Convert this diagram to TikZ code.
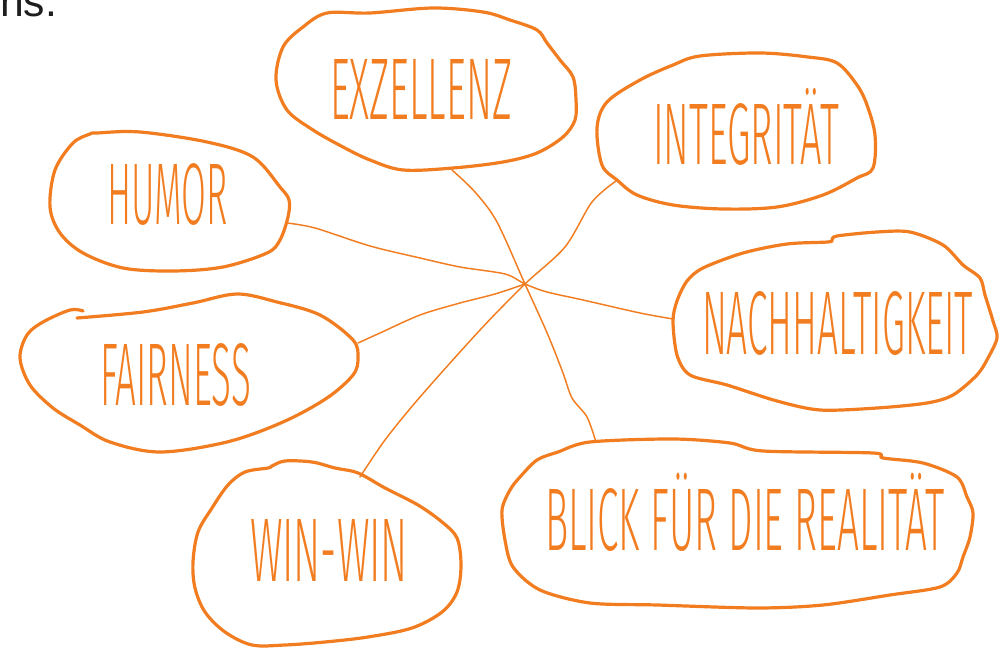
\documentclass[tikz,border=0pt]{standalone}
\usepackage{fontspec}
\setmainfont{Liberation Sans}
\newfontfamily\labelfont{Fira Sans Light}
\definecolor{org}{RGB}{242,125,32}
\definecolor{ink}{RGB}{30,30,30}
\newcommand\lbl[3]{\resizebox{#1}{#2}{\labelfont\rule{0pt}{\fontcharht\font`H}\smash{#3}}}
\tikzset{
  blob/.style={draw=org,line width=2.4pt,line join=round,line cap=round},
  link/.style={draw=org,line width=1.1pt,line cap=round,line join=round},
  lab/.style={inner sep=0pt,outer sep=0pt,anchor=base west,text=org}
}
\begin{document}
\begin{tikzpicture}[x=0.75pt,y=-0.75pt]
\useasboundingbox (0,0) rectangle (1004,648);
% top-left cut text
\node[inner sep=0pt,anchor=base west,text=ink,font=\fontsize{32}{32}\selectfont] (ns) at (0,17) {ns.};

% labels
\node[lab] (exz) at (330,120) {\lbl{136.5pt}{45pt}{EXZELLENZ}};
\node[lab] (int) at (653,165) {\lbl{139.5pt}{45pt}{INTEGRITÄT}};
\node[lab] (hum) at (107,225) {\lbl{90.75pt}{45pt}{HUMOR}};
\node[lab] (nach) at (702,355) {\lbl{203.25pt}{46.5pt}{NACHHALTIGKEIT}};
\node[lab] (fair) at (100,406) {\lbl{113.25pt}{45.75pt}{FAIRNESS}};
\node[lab] (win) at (250,582) {\lbl{118.5pt}{46.5pt}{WIN-WIN}};
\node[lab] (blick) at (545,551) {\lbl{300pt}{45.75pt}{BLICK FÜR DIE REALITÄT}};

% blobs
\draw[blob] plot[smooth cycle,tension=0.55] coordinates {
 (327,13) (370,13) (433,8) (483,12) (510,20) (537,30) (547,43) (560,60) (573,77)
 (576,100) (575,120) (563,137) (537,153) (503,162) (453,168) (403,170) (370,160)
 (343,147) (313,130) (287,110) (276,80) (283,47) (303,27)};
\draw[blob] plot[smooth cycle,tension=0.55] coordinates {
 (700,56) (760,53) (808,57) (837,63) (857,85) (867,105) (875,135) (873,168)
 (857,178) (823,195) (777,207) (723,209) (673,205) (637,195) (617,180) (602,165)
 (597,128) (607,102) (640,80) (673,65)};
\draw[blob] plot[smooth cycle,tension=0.55] coordinates {
 (97,133) (140,132) (207,142) (253,157) (280,187) (289,200) (288,217) (280,240)
 (267,253) (223,267) (173,271) (123,268) (83,253) (60,233) (50,207) (55,170)
 (73,143) (90,134)};
\draw[blob] plot[smooth cycle,tension=0.5] coordinates {
 (837,236) (877,232) (910,232) (943,245) (963,265) (980,278) (985,295) (993,321)
 (997,338) (988,358) (977,375) (953,395) (927,403) (877,408) (820,410) (777,401)
 (727,385) (690,375) (677,355) (673,321) (677,301) (687,281) (703,268) (743,253)
 (787,244) (828,242) (832,240)};
\draw[blob] plot[smooth,tension=0.55] coordinates {
 (77,318) (143,312) (193,303) (237,294) (277,302) (320,315) (353,340) (358,358)
 (353,375) (327,398) (283,422) (227,442) (160,452) (110,442) (80,425) (53,408)
 (30,385) (20,358) (27,335) (43,322) (70,310) (83,311)};
\draw[blob] plot[smooth cycle,tension=0.55] coordinates {
 (272,466) (285,461) (312,462) (335,468) (358,473) (385,488) (418,505) (442,522)
 (457,538) (461,565) (457,592) (442,612) (412,628) (368,637) (325,642) (285,645)
 (252,645) (225,632) (205,612) (195,588) (193,562) (198,532) (212,508) (228,485)
 (245,472) (268,468)};
\draw[blob] plot[smooth cycle,tension=0.5] coordinates {
 (558,452) (590,442) (673,439) (730,443) (763,451) (873,453) (883,458) (923,463)
 (957,477) (967,497) (973,513) (970,537) (963,557) (957,573) (940,587) (890,595)
 (823,605) (757,608) (657,605) (590,603) (540,590) (513,567) (505,540) (502,510)
 (510,490) (520,477) (537,460)};

% connector points
\coordinate (hub) at (525,284);
\coordinate (pexz) at (452,170);
\coordinate (pblick) at (596,442);
\coordinate (pint) at (616,181);
\coordinate (pwin) at (360,477);
\coordinate (phum) at (287,223);
\coordinate (pnach) at (673,319);
\coordinate (pfair) at (358,343);

\draw[link] plot[smooth,tension=0.5] coordinates {
 (pexz) (475,192) (497,222) (hub) (548,335) (563,373) (572,398) (587,417) (pblick)};
\draw[link] plot[smooth,tension=0.5] coordinates {
 (pint) (592,202) (565,247) (hub) (480,330) (420,397) (385,440) (pwin)};
\draw[link] plot[smooth,tension=0.5] coordinates {
 (phum) (315,228) (370,246) (420,258) (460,267) (505,274) (hub) (547,292) (583,300) (640,313) (pnach)};
\draw[link] plot[smooth,tension=0.5] coordinates {
 (pfair) (380,333) (420,315) (460,303) (495,294) (hub)};
\end{tikzpicture}
\end{document}
